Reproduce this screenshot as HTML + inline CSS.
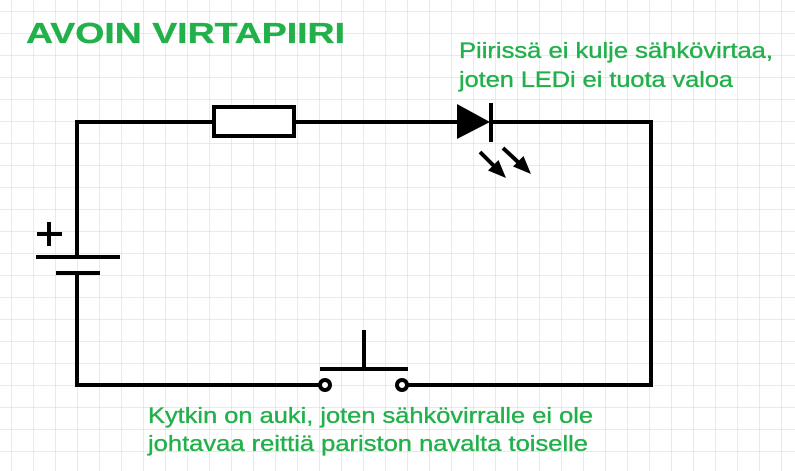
<!DOCTYPE html>
<html><head><meta charset="utf-8"><style>
html,body{margin:0;padding:0;background:#fff;}
svg{display:block;}
text{font-family:"Liberation Sans",Arial,sans-serif;fill:#22b04b;stroke:#22b04b;stroke-width:0.35;}
</style></head><body>
<svg width="795" height="471" xmlns="http://www.w3.org/2000/svg">
<defs>
<pattern id="g" x="11" y="11" width="22" height="22" patternUnits="userSpaceOnUse">
<path d="M0 0H22M0 0V22" stroke="#dcdcdc" stroke-width="1.2" fill="none"/>
</pattern>
</defs>
<rect width="795" height="471" fill="url(#g)"/>
<g stroke="#000" stroke-width="4" fill="none">
<path d="M77 257V122H213M295 122H460M490 122H651V385H407M320 385H77V273"/>
<line x1="36" y1="257" x2="120" y2="257"/>
<line x1="56" y1="273" x2="100" y2="273"/>
<line x1="37" y1="234" x2="62" y2="234"/>
<line x1="49" y1="222" x2="49" y2="246"/>
<rect x="214" y="107" width="80" height="29" fill="#fff"/>
<line x1="491" y1="103" x2="491" y2="142"/>
<line x1="320" y1="369" x2="408" y2="369"/>
<line x1="364" y1="330" x2="364" y2="369"/>
<circle cx="325" cy="385" r="5" fill="#fff"/>
<circle cx="402" cy="385" r="5" fill="#fff"/>
<line x1="480" y1="152" x2="494" y2="166"/>
<line x1="503" y1="148" x2="518" y2="162"/>
</g>
<polygon points="457,104 457,139 490,122" fill="#000"/>
<polygon points="506,178 498.5,160 488,170.5" fill="#000"/>
<polygon points="531,174 523.5,156 513,166.5" fill="#000"/>
<text x="26" y="43" font-size="29" font-weight="bold" textLength="319" lengthAdjust="spacingAndGlyphs">AVOIN VIRTAPIIRI</text>
<text x="459" y="58" font-size="22" textLength="314" lengthAdjust="spacingAndGlyphs">Piirissä ei kulje sähkövirtaa,</text>
<text x="459" y="87" font-size="22" textLength="274" lengthAdjust="spacingAndGlyphs">joten LEDi ei tuota valoa</text>
<text x="148" y="423" font-size="22" textLength="445" lengthAdjust="spacingAndGlyphs">Kytkin on auki, joten sähkövirralle ei ole</text>
<text x="148" y="451" font-size="22" textLength="440" lengthAdjust="spacingAndGlyphs">johtavaa reittiä pariston navalta toiselle</text>
</svg>
</body></html>
